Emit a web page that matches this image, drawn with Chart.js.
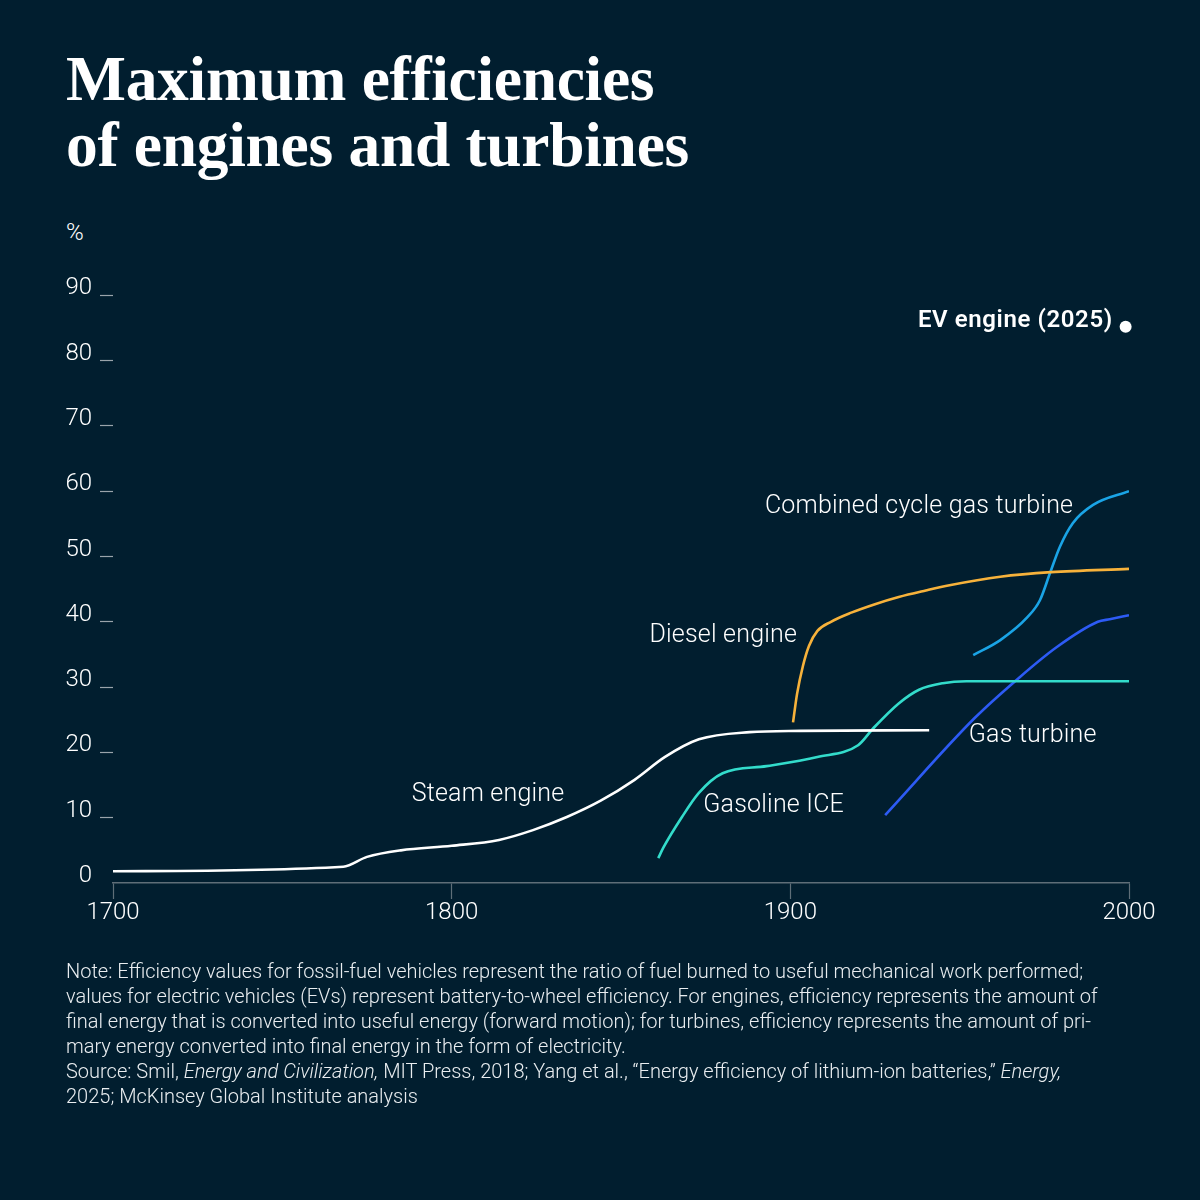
<!DOCTYPE html>
<html>
<head>
<meta charset="utf-8">
<script src="https://cdn.jsdelivr.net/npm/chart.js@4.4.1/dist/chart.umd.min.js"></script>
<style>
  html, body { margin: 0; padding: 0; background: #011e2f; }
  #wrap { position: relative; width: 1200px; height: 1200px; background: #011e2f; overflow: hidden; }
  #chart { position: absolute; left: 0; top: 0; }
  h1 {
    position: absolute; left: 66px; top: 46px; margin: 0;
    font-family: "Liberation Serif", serif; font-weight: 700; font-size: 63.5px;
    line-height: 66px; color: #ffffff; letter-spacing: -0.3px;
  }
  #unit { position: absolute; left: 66px; top: 218px; font-family: Roboto, sans-serif; font-weight: 300; font-size: 24px; color: #ffffff; }
  #note {
    position: absolute; left: 66px; top: 959px; margin: 0; white-space: nowrap;
    font-family: Roboto, sans-serif; font-weight: 300; font-size: 20px; line-height: 25px; color: #e9edf0;
  }
</style>
</head>
<body>
<div id="wrap">
  <h1>Maximum efficiencies<br>of engines and turbines</h1>
  <div id="unit">%</div>
  <canvas id="chart" width="1200" height="1200"></canvas>
  <p id="note">Note: Efficiency values for fossil-fuel vehicles represent the ratio of fuel burned to useful mechanical work performed;<br>values for electric vehicles (EVs) represent battery-to-wheel efficiency. For engines, efficiency represents the amount of<br>final energy that is converted into useful energy (forward motion); for turbines, efficiency represents the amount of pri-<br>mary energy converted into final energy in the form of electricity.<br>Source: Smil, <i>Energy and Civilization,</i> MIT Press, 2018; Yang et al., “Energy efficiency of lithium-ion batteries,” <i>Energy,</i><br>2025; McKinsey Global Institute analysis</p>
</div>
<script>
// values, % efficiency by year
const steamYears = [1700, 1768, 1775, 1785, 1800, 1814, 1824, 1834, 1844, 1854, 1863, 1873, 1888, 1903, 1941];
const steamValues = [1.8, 2.5, 4.0, 5.0, 5.7, 6.6, 8.1, 10.1, 12.6, 15.8, 19.3, 22.0, 23.1, 23.3, 23.4];

const gasolineYears = [1861, 1862.5, 1868, 1873, 1880, 1893, 1908, 1920, 1924.5, 1932, 1938, 1945, 1952, 2000];
const gasolineValues = [3.8, 5.4, 10.1, 13.8, 16.8, 17.9, 19.3, 21.1, 23.7, 27.5, 29.6, 30.6, 30.9, 30.9];

const dieselYears = [1900.8, 1902, 1903.7, 1905.5, 1908, 1912, 1918, 1925, 1932, 1940, 1947, 1962, 1977, 2000];
const dieselValues = [24.6, 29.0, 33.2, 36.3, 38.6, 40.0, 41.4, 42.7, 43.8, 44.8, 45.6, 46.9, 47.6, 48.1];

const ccgtYears = [1954, 1962, 1970, 1973.7, 1976.7, 1979.6, 1983.4, 1989.4, 2000];
const ccgtValues = [34.9, 37.2, 40.7, 43.3, 47.5, 51.5, 55.1, 57.9, 60.0];

const gasTurbineYears = [1928, 1954.5, 1966.8, 1978.6, 1990.8, 1994.3, 2000];
const gasTurbineValues = [10.4, 25.3, 31.1, 36.1, 40.0, 40.4, 41.0];

const evYear = [1999];
const evValue = [85.2];

const xTicks = [1700, 1800, 1900, 2000];
const yTicks = [0, 10, 20, 30, 40, 50, 60, 70, 80, 90];

// series labels, anchored in data space
const seriesLabels = [
  { text: 'Steam engine', year: 1788.2, value: 13.5, align: 'left', bold: false },
  { text: 'Gasoline ICE', year: 1874.3, value: 11.8, align: 'left', bold: false },
  { text: 'Diesel engine', year: 1858.4, value: 37.8, align: 'left', bold: false },
  { text: 'Gas turbine', year: 1952.7, value: 22.5, align: 'left', bold: false },
  { text: 'Combined cycle gas turbine', year: 1892.5, value: 57.6, align: 'left', bold: false },
  { text: 'EV engine (2025)', year: 1995.2, value: 86.1, align: 'right', bold: true }
];

function pts(xs, ys) {
  return xs.map((x, i) => ({ x: x, y: ys[i] }));
}

function lineSet(label, xs, ys, color) {
  return {
    label: label,
    data: pts(xs, ys),
    borderColor: color,
    backgroundColor: color,
    borderWidth: 2.6,
    pointRadius: 0,
    cubicInterpolationMode: 'monotone',
    fill: false
  };
}

const labelPlugin = {
  id: 'seriesLabels',
  afterDatasetsDraw(chart) {
    const ctx = chart.ctx;
    const xs = chart.scales.x, ys = chart.scales.y;
    ctx.save();
    ctx.textBaseline = 'middle';
    seriesLabels.forEach(l => {
      ctx.font = (l.bold ? '600 24px' : '300 25px') + ' Roboto, sans-serif';
      ctx.letterSpacing = l.bold ? '0.6px' : '0.2px';
      ctx.fillStyle = '#ffffff';
      ctx.textAlign = l.align;
      ctx.fillText(l.text, xs.getPixelForValue(l.year), ys.getPixelForValue(l.value));
    });
    ctx.restore();
  }
};

const config = {
  type: 'line',
  data: {
    datasets: [
      lineSet('Steam engine', steamYears, steamValues, '#ffffff'),
      lineSet('Gasoline ICE', gasolineYears, gasolineValues, '#33dccb'),
      lineSet('Diesel engine', dieselYears, dieselValues, '#f7b23b'),
      lineSet('Combined cycle gas turbine', ccgtYears, ccgtValues, '#1aa4e6'),
      lineSet('Gas turbine', gasTurbineYears, gasTurbineValues, '#2d5bf5'),
      {
        label: 'EV engine (2025)',
        data: pts(evYear, evValue),
        showLine: false,
        clip: false,
        pointRadius: 6,
        pointBackgroundColor: '#ffffff',
        pointBorderWidth: 0
      }
    ]
  },
  options: {
    responsive: false,
    animation: false,
    layout: { padding: { left: 0, right: 71, top: 230, bottom: 257 } },
    plugins: { legend: { display: false }, tooltip: { enabled: false } },
    scales: {
      x: {
        type: 'linear',
        min: 1700,
        max: 2000,
        afterFit: s => { s.height = 60; },
        afterBuildTicks: s => { s.ticks = xTicks.map(v => ({ value: v })); },
        border: { display: true, color: '#5f6e78', width: 1.5 },
        grid: { drawOnChartArea: false, drawTicks: true, tickLength: 16, tickColor: '#5f6e78', tickWidth: 1.2 },
        ticks: {
          color: '#ffffff',
          padding: 0,
          callback: v => String(v),
          font: { family: 'Roboto, sans-serif', size: 24, weight: 300 }
        }
      },
      y: {
        min: 0,
        max: 100,
        afterFit: s => { s.width = 113; },
        afterBuildTicks: s => { s.ticks = yTicks.map(v => ({ value: v })); },
        border: { display: false },
        grid: {
          drawOnChartArea: false,
          drawTicks: true,
          tickLength: 13,
          tickWidth: 1.2,
          tickColor: c => (c.tick && c.tick.value === 0) ? 'rgba(0,0,0,0)' : '#9aa4ab'
        },
        ticks: {
          color: '#ffffff',
          padding: 8,
          labelOffset: -7,
          font: { family: 'Roboto, sans-serif', size: 24, weight: 300 }
        }
      }
    }
  },
  plugins: [labelPlugin]
};

var myChart = new Chart(document.getElementById('chart'), config);
</script>
</body>
</html>
